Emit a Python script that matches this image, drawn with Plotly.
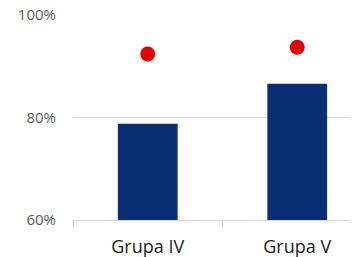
import plotly.graph_objects as go

categories = ["Grupa IV", "Grupa V"]
bar_values = [78.8, 86.6]
dot_values = [92.4, 93.7]
y_ticks = [60, 80, 100]
y_tick_labels = ["60%", "80%", "100%"]

fig = go.Figure()
fig.add_trace(go.Bar(x=categories, y=bar_values, width=0.4,
                     marker=dict(color="#0a2e73", line=dict(width=0)),
                     showlegend=False))
fig.add_trace(go.Scatter(x=categories, y=dot_values, mode="markers",
                         marker=dict(color="#e60000", size=15, line=dict(width=0)),
                         showlegend=False, cliponaxis=False))

fig.update_layout(
    width=358, height=257,
    margin=dict(l=65, r=0, t=7, b=45, autoexpand=False),
    paper_bgcolor="white", plot_bgcolor="white",
    font=dict(family="Open Sans", color="#595959"),
    xaxis=dict(type="category", range=[-0.5, 1.46], tickson="boundaries",
               ticks="outside", ticklen=7, tickcolor="#d9d9d9", tickwidth=1,
               showline=True, linecolor="#d9d9d9", linewidth=1,
               showgrid=False, automargin=False, ticklabelstandoff=10,
               tickfont=dict(size=18, color="#1a1a1a")),
    yaxis=dict(range=[60, 100], tickvals=y_ticks, ticktext=y_tick_labels,
               showgrid=True, gridcolor="#d9d9d9", gridwidth=1,
               zeroline=False, ticks="", ticklabelstandoff=16, automargin=False,
               ticklabeloverflow="allow",
               tickfont=dict(size=15, color="#595959")),
)
fig.write_html("out.html")
